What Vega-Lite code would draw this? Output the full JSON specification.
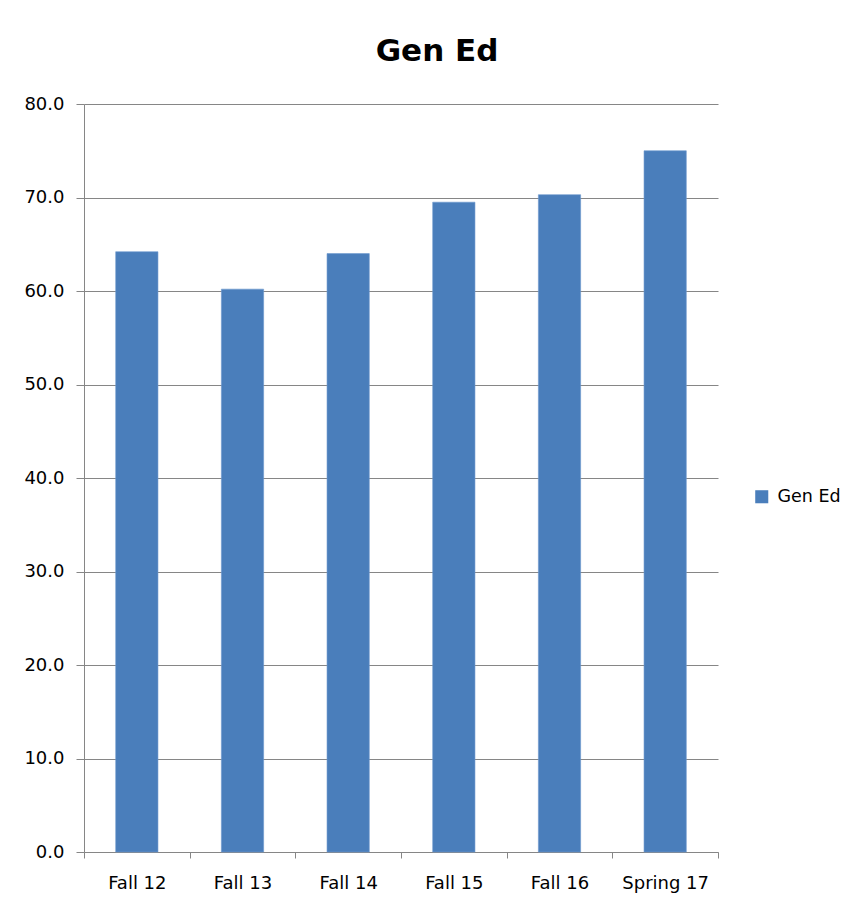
{
  "$schema": "https://vega.github.io/schema/vega-lite/v6.json",
  "width": 634,
  "height": 748,
  "autosize": "none",
  "padding": {"left": 84, "top": 104, "right": 140, "bottom": 56},
  "background": "white",
  "title": {
    "text": "Gen Ed",
    "font": "DejaVu Sans",
    "fontSize": 31,
    "fontWeight": "bold",
    "color": "#000000",
    "anchor": "middle",
    "dx": 36,
    "baseline": "alphabetic",
    "offset": 3
  },
  "config": {
    "view": {"stroke": null},
    "axis": {"labelFont": "DejaVu Sans", "labelColor": "#000000"}
  },
  "data": {
    "values": [
      {"term": "Fall 12", "series": "Gen Ed", "value": 64.2},
      {"term": "Fall 13", "series": "Gen Ed", "value": 60.2},
      {"term": "Fall 14", "series": "Gen Ed", "value": 64.0},
      {"term": "Fall 15", "series": "Gen Ed", "value": 69.5},
      {"term": "Fall 16", "series": "Gen Ed", "value": 70.3},
      {"term": "Spring 17", "series": "Gen Ed", "value": 75.0}
    ]
  },
  "mark": {"type": "bar", "width": {"band": 0.4}, "stroke": "#6d98cf", "strokeWidth": 0.6},
  "encoding": {
    "x": {
      "field": "term",
      "type": "nominal",
      "sort": null,
      "title": null,
      "scale": {"paddingInner": 0, "paddingOuter": 0},
      "axis": {
        "labelAngle": 0,
        "labelFontSize": 18,
        "labelPadding": 16,
        "tickBand": "extent",
        "tickSize": 6,
        "tickColor": "#868686",
        "domainColor": "#868686",
        "grid": false
      }
    },
    "y": {
      "field": "value",
      "type": "quantitative",
      "title": null,
      "scale": {"domain": [0, 80], "nice": false},
      "axis": {
        "values": [0, 10, 20, 30, 40, 50, 60, 70, 80],
        "format": ".1f",
        "labelFontSize": 18,
        "labelPadding": 12,
        "tickSize": 8,
        "tickColor": "#868686",
        "domainColor": "#868686",
        "gridColor": "#868686",
        "gridOpacity": 1,
        "grid": true
      }
    },
    "color": {
      "field": "series",
      "type": "nominal",
      "scale": {"range": ["#4a7ebb"]},
      "legend": {
        "title": null,
        "orient": "none",
        "legendX": 669,
        "legendY": 384,
        "symbolType": "square",
        "symbolSize": 170,
        "symbolStrokeWidth": 0,
        "labelFont": "DejaVu Sans",
        "labelFontSize": 17.5,
        "labelColor": "#000000",
        "labelOffset": 7
      }
    }
  }
}
